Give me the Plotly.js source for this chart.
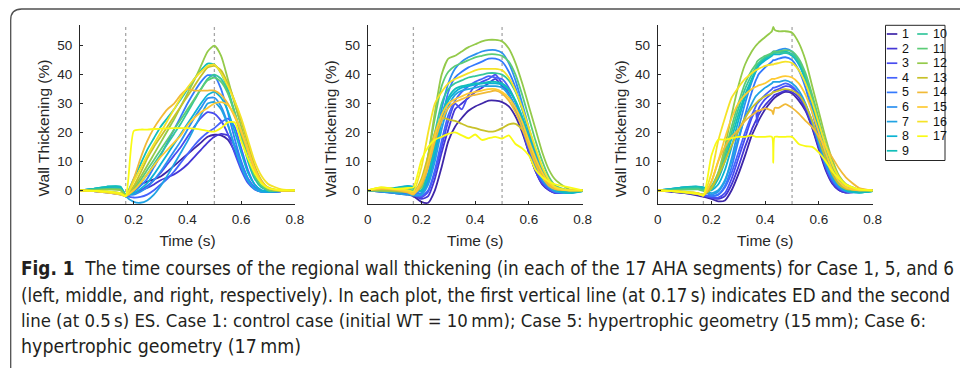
<!DOCTYPE html>
<html><head><meta charset="utf-8">
<script src="https://cdn.plot.ly/plotly-3.0.1.min.js"></script>
<style>html,body{margin:0;padding:0;background:#fff;} #chart{width:960px;height:368px;}</style>
</head><body><div id="chart"></div>
<script>
// ---------------- DATA ----------------
const segments = ['1','2','3','4','5','6','7','8','9','10','11','12','13','14','15','16','17'];
const segColors = ['#3e26a8','#4536d5','#484cef','#4562fc','#347afd','#2c90f0','#21a3e3','#0cb3d3','#12beb9',
                   '#34c79c','#5ccc76','#94ca4a','#c8c129','#f1ba37','#feca33','#f5e327','#f9fb15'];
const xTicks = [0, 0.2, 0.4, 0.6, 0.8];
const xTickText = ['0', '0.2', '0.4', '0.6', '0.8'];
const yTicks = [0, 10, 20, 30, 40, 50];
const yTickText = ['0', '10', '20', '30', '40', '50'];
const edTime = 0.17;   // end-diastole
const esTime = 0.5;    // end-systole
const caseNames = ['Case 1', 'Case 5', 'Case 6'];
const xTitle = 'Time (s)';
const yTitle = 'Wall Thickening (%)';

// time samples (s)
const tBase  = [0, 0.05, 0.1, 0.15, 0.17, 0.2, 0.225, 0.25, 0.275, 0.3, 0.325, 0.35, 0.375, 0.4, 0.425, 0.45, 0.475, 0.5, 0.525, 0.55, 0.575, 0.6, 0.625, 0.65, 0.675, 0.7, 0.75, 0.8];
const tCase6 = [0, 0.05, 0.1, 0.15, 0.17, 0.2, 0.225, 0.25, 0.275, 0.3, 0.325, 0.35, 0.365, 0.37, 0.375, 0.4, 0.425, 0.43, 0.435, 0.45, 0.475, 0.5, 0.525, 0.55, 0.575, 0.6, 0.625, 0.65, 0.675, 0.7, 0.75, 0.8];

// Case 1 (left) – wall thickening (%) per AHA segment
const c1_s1  = [0, -0.3, -0.6, -1.2, -1.5, 0.5, 2, 3, 3.8, 4.8, 6.5, 8.5, 10.5, 12.5, 14.5, 16.5, 18.5, 19.2, 19, 17.5, 13.5, 8, 3.5, 1, -0.3, -0.5, -0.3, 0];
const c1_s2  = [0, -0.3, -0.7, -1.3, -1.7, -1, 0, 0.8, 2, 3.5, 4.5, 5.5, 7, 9, 11.5, 14, 16.5, 18.5, 19.5, 19, 15.5, 9.5, 4, 1, -0.3, -0.5, -0.3, 0];
const c1_s3  = [0, -0.2, -0.5, -1, -1.5, -1, 0, 1.5, 3.5, 6, 9, 12, 15, 18.5, 22, 25, 27, 26.5, 24, 19.5, 13, 7, 2.5, 0.3, -0.5, -0.4, -0.2, 0];
const c1_s4  = [0, -0.3, -0.8, -1.5, -2, -2.5, -2.3, -1.5, 0, 2, 4, 6.5, 9.5, 12.5, 15.5, 18, 20, 21.5, 23.5, 24.8, 22, 14.5, 7, 2, 0, -0.5, -0.3, 0];
const c1_s5  = [0, 0.3, 0.5, 0.2, -1.5, -0.5, 1.5, 4, 8, 12, 16.5, 21, 25.5, 30, 34, 37.5, 39.8, 39.5, 35, 27, 18, 10, 4, 1, -0.3, -0.5, -0.3, 0];
const c1_s6  = [0, 0.3, 0.6, 0.5, -1.5, -1.5, -0.5, 1, 3.5, 6.5, 10, 13.5, 17, 21, 25, 28.5, 31.8, 32, 29, 23, 15, 8, 3, 0.5, -0.5, -0.4, -0.2, 0];
const c1_s7  = [0, 0.5, 1, 0.8, -2, -4, -4.3, -3.5, -1.5, 1.5, 5, 9, 13, 17, 21.5, 26, 30, 30.5, 28, 22.5, 15.5, 8.5, 3.5, 0.5, -0.5, -0.4, -0.2, 0];
const c1_s8  = [0, 0.5, 1.2, 1.2, -1.5, -1, 0.5, 2.5, 5.5, 9, 12.5, 16, 19.5, 23, 26.5, 30, 33, 34, 32, 27.5, 20.5, 13, 6, 2, 0, -0.5, -0.3, 0];
const c1_s9  = [0, 0.5, 1.3, 1.3, -1.5, 4, 9, 14, 18, 22, 25, 28, 31.5, 35, 38.5, 41.5, 43.8, 43.5, 40.5, 35, 27, 18.5, 10, 4, 1, 0, -0.3, 0];
const c1_s10 = [0, 0.2, 0.5, 0.5, -1.5, 0, 2.5, 5.5, 9, 12.5, 16, 19.5, 23, 27, 31, 35, 38.5, 40, 38.5, 34, 27, 19, 11, 5, 1.5, 0, -0.3, 0];
const c1_s11 = [0, 0.2, 0.4, 0.3, -1.5, 0.5, 3.5, 7, 10.5, 14, 17.5, 21, 24.5, 28, 31.5, 35, 38, 39, 37.5, 33.5, 27, 19.5, 11.5, 5, 1.5, 0, -0.3, 0];
const c1_s12 = [0, 0, 0.2, 0, -1.8, 1, 4.5, 8.5, 12.5, 16.5, 20.5, 24.5, 29, 33.5, 38, 43, 48, 50, 46.5, 38.5, 30, 22, 14, 7, 2.5, 0.5, -0.2, 0];
const c1_s13 = [0, -0.2, -0.5, -1, -1.8, 1.5, 6, 11, 15, 18.5, 22, 25.5, 29, 32.5, 36, 39.5, 42.5, 43, 41.5, 37, 31, 24, 16, 8.5, 3.5, 1, -0.1, 0];
const c1_s14 = [0, -0.2, -0.6, -1.2, -2, 4, 11, 17, 21.5, 25, 28, 30, 33, 35, 34.5, 34.5, 34.5, 34.5, 33, 30, 25.5, 20, 13.5, 7, 3, 0.8, -0.1, 0];
const c1_s15 = [0, -0.3, -0.8, -1.5, -2, 0, 2.5, 5.5, 8.5, 11.5, 14, 16.5, 19, 22.5, 25, 27, 28.5, 30, 30.5, 29.5, 26, 20.5, 14, 7.5, 3, 0.8, -0.1, 0];
const c1_s16 = [0, -0.3, -0.7, -1.3, -2, 3, 7.5, 12, 16, 20, 24, 28, 32, 35.5, 38.5, 41, 43, 43.5, 40.5, 36, 31, 25, 17.5, 10, 5, 2.2, 0.3, 0];
const c1_s17 = [0, -0.2, -0.4, -1, -2, 20.5, 21, 21, 21.2, 21.3, 21.4, 21.5, 21.5, 21.5, 21.3, 21, 20.5, 20.3, 21.5, 23.5, 23.5, 17, 11, 6, 2.5, 0.8, 0, 0];

// Case 5 (middle)
const c5_s1  = [0, -0.5, -1, -1.5, -2, -4, -4.3, 0, 8, 17, 22, 25, 27.5, 29, 30, 31, 31, 30.5, 29, 25.5, 20, 13, 6.5, 2, 0, -1, -0.5, 0];
const c5_s2  = [0, -0.4, -0.8, -1.2, -1.5, -3, -2, 4, 13, 21, 28, 30, 32, 34, 35.5, 37, 38.5, 36, 33, 28, 21, 13, 6.5, 2, 0, -1, -0.5, 0];
const c5_s3  = [0, -0.3, -0.6, -1, -1.5, -2.5, -0.5, 6, 15, 24, 30, 28, 33, 36, 37.5, 38.5, 40, 37, 33.5, 28.5, 21.5, 13.5, 7, 2.5, 0.3, -0.8, -0.5, 0];
const c5_s4  = [0, -0.3, -0.6, -1, -1.5, -2, 0, 7, 17, 26, 31, 34, 36, 37.5, 38.5, 39.5, 39, 38.5, 35.5, 30.5, 23.5, 15, 8, 3, 0.5, -0.8, -0.5, 0];
const c5_s5  = [0, -0.3, -0.5, -0.8, -1.2, -1, 3, 12, 24, 34, 39, 41, 42.5, 43.5, 44.5, 45.5, 45.5, 44.5, 41, 35.5, 28, 20, 12, 5.5, 2, 0, -0.5, 0];
const c5_s6  = [0, -0.2, -0.5, -0.8, -1.2, 0, 6, 16, 28, 37, 42, 44.5, 46, 47, 48, 48.5, 48.5, 47.5, 44, 38, 30, 21.5, 13, 6.5, 2.5, 0.5, -0.5, 0];
const c5_s7  = [0, -0.5, -1, -1.5, -1.8, -1.5, 2, 10, 21, 29, 33, 34.5, 35, 35.5, 36, 36, 36, 35.5, 33, 28.5, 22, 15, 8.5, 3.5, 1, -0.5, -1, -0.3];
const c5_s8  = [0, 0.3, 0.8, 1.5, 1.2, -0.5, 4, 13, 24, 31, 34, 35.5, 36, 36.5, 37, 37, 37, 36.5, 34.5, 30.5, 24.5, 17.5, 10.5, 5, 1.5, 0, -1, -0.3];
const c5_s9  = [0, 0.3, 0.7, 1.3, 1, 0, 5, 15, 26, 32, 35, 36, 36.5, 37, 37, 37.5, 37.5, 37, 35, 31, 25.5, 18.5, 11.5, 5.5, 2, 0.3, -0.8, -0.3];
const c5_s10 = [0, 0.2, 0.5, 0.8, 0.5, 1, 9, 20, 30, 35, 37, 38, 39, 39.5, 40, 40.5, 40.5, 40, 38, 34, 28, 21, 14, 7.5, 3, 1, 0, 0];
const c5_s11 = [0, 0, 0.2, 0.3, 0, 2, 12, 25, 36, 41, 43, 44, 45, 46, 46.5, 47, 47, 46.5, 44.5, 40, 33, 25, 17, 10, 4.5, 1.5, 0, 0];
const c5_s12 = [0, -0.2, -0.4, -0.6, -0.8, 1, 12, 27, 40, 45.5, 46.5, 48, 49.5, 50.5, 51.5, 52, 52, 51.5, 49, 44, 37, 29, 21, 13, 7, 3.5, 0.3, 0];
const c5_s13 = [0, 0.3, 0, -0.5, -1, 4, 12, 20, 25, 24.5, 24, 23, 22, 21.5, 20.8, 20.3, 20.5, 21.5, 22.8, 23, 21, 16, 10, 5, 2, 0.5, 0, 0];
const c5_s14 = [0, 0.5, 0.2, -0.8, -1.5, 2, 8, 17, 24, 28.5, 30.5, 31.5, 32.5, 33, 33.5, 34, 34.5, 33.5, 31, 27, 21.5, 15, 9, 4.5, 1.5, 0.3, 0, 0];
const c5_s15 = [0, 0.8, 0.3, -0.5, -1.2, 3, 10, 19, 26, 30, 31.5, 32.5, 33.5, 34, 34.5, 35, 35, 34, 32, 28.5, 23.5, 17, 11, 6, 2.5, 0.8, 0, 0];
const c5_s16 = [0, 1, 0.5, 0, -0.5, 8, 20, 30, 34, 37, 38.5, 39.5, 40.5, 41.5, 42, 42, 42, 41.5, 39, 34.5, 28.5, 21.5, 14.5, 8, 3.5, 1, 0, 0];
const c5_s17 = [0, 1, 0.5, 0.8, 1, 10.5, 15, 17.5, 18.5, 19.5, 20, 19, 18, 19.3, 17.4, 18, 18.5, 17.9, 19, 16, 14.5, 12, 7, 4.5, 3, 2, 1, 0];

// Case 6 (right)
const c6_s1  = [0, -0.5, -1, -1.8, -2.2, -3, -3.8, -3.5, 0, 5.5, 12, 19, 22, 23, 24, 28, 31, 31.5, 32, 33, 34, 33.5, 31, 27.5, 21.5, 14, 7, 2.3, 0, -0.8, -0.5, 0];
const c6_s2  = [0, -0.4, -0.9, -1.5, -2, -2.5, -3, -2, 2, 8, 15, 21, 24, 25, 26, 29.5, 32, 32.5, 33, 33.5, 34.5, 34, 32, 28, 22, 14.5, 7.5, 2.5, 0, -0.8, -0.5, 0];
const c6_s3  = [0, -0.3, -0.8, -1.3, -1.8, -2.5, -2.5, -1, 4, 11, 18, 25, 27.5, 23, 28, 31.5, 33.5, 34, 34.5, 35, 36, 35.5, 33, 29, 23, 15.5, 8, 3, 0.5, -0.5, -0.5, 0];
const c6_s4  = [0, -0.3, -0.7, -1.2, -1.6, -2, -1.5, 1, 6, 13, 20, 26, 29, 30, 30.5, 33, 35, 35.5, 35.5, 36, 37, 36, 33.5, 29.5, 23.5, 16, 8.5, 3.5, 0.8, -0.3, -0.5, 0];
const c6_s5  = [0, 0.3, 0.6, 0.8, 0.2, -2, -1.5, 1.5, 8, 17, 26, 34, 38, 39, 40, 42.5, 44.5, 45, 45, 45.5, 46, 45, 41.5, 35.5, 27, 18, 10, 4, 1, -0.3, -0.5, 0];
const c6_s6  = [0, 0.3, 0.6, 0.9, 0.3, -1.5, -0.5, 3, 11, 21, 30, 37.5, 41, 42, 43, 45.5, 47.5, 48, 48, 48.5, 49, 48, 44.5, 38, 29, 19.5, 11, 5, 1.5, 0, -0.5, 0];
const c6_s7  = [0, 0.5, 1, 1.2, 0.9, -1, 0, 3.5, 10, 18, 25, 30, 32.5, 33, 33.5, 35.5, 37, 37.5, 37.5, 37.5, 38, 37, 34.5, 30, 23.5, 16, 9, 4, 1.2, -0.3, -0.8, -0.3];
const c6_s8  = [0, 0.5, 1.1, 1.3, 1, 0, 2, 7, 15, 24, 32, 38, 41.5, 42.5, 43, 45, 46.5, 47, 47, 47, 47.5, 46.5, 43.5, 38, 30, 21, 12.5, 6, 2, 0, -0.8, -0.3];
const c6_s9  = [0, 0.4, 1, 1.2, 0.9, 0.5, 4, 10, 18, 26, 33, 38.5, 41.5, 42.5, 43.5, 45.5, 47, 47.5, 47.5, 48, 48, 47, 44, 38.5, 30.5, 21.5, 13, 6.5, 2.5, 0.3, -0.8, -0.3];
const c6_s10 = [0, 0.2, 0.5, 0.7, 0.3, 1, 5, 11.5, 20, 28, 35, 40, 42.5, 43.5, 44, 46, 47, 47.5, 47.5, 47.5, 47.5, 47, 44.5, 39.5, 32, 23.5, 15, 8, 3, 1, 0, 0];
const c6_s11 = [0, 0, 0.2, 0.3, -0.2, 1.5, 6, 13, 22, 30, 37, 41.5, 43.5, 44.5, 45, 46.5, 47.5, 48, 48, 48, 48.5, 48, 45.5, 40.5, 33, 24.5, 16, 8.5, 3.5, 1, 0, 0];
const c6_s12 = [0, -0.3, -0.8, -1.3, -1.5, 0.5, 6, 15, 26, 36, 43.5, 48, 50, 50.5, 51, 53, 55, 56.5, 55.5, 55, 55, 54.5, 51, 45, 36, 27, 18, 10.5, 5, 2.2, 0.2, 0];
const c6_s13 = [0, -0.2, -0.5, -1, -1.5, 1, 5, 10, 15.5, 20.5, 25, 28.5, 30, 30.5, 31, 32.5, 33.5, 34, 34, 34.5, 35, 34.5, 33, 29.5, 24, 17.5, 11, 5.5, 2, 0.5, 0, 0];
const c6_s14 = [0, -0.2, -0.6, -1.2, -1.8, 3, 10, 15, 18.5, 21, 24, 26, 27, 27.5, 27.5, 28.3, 27.5, 26.3, 28.5, 28.5, 29.8, 28.5, 26.5, 24, 21.8, 18.5, 15, 11.3, 7.5, 4.5, 0.8, 0];
const c6_s15 = [0, -0.3, -0.7, -1.3, -1.8, 3, 10, 18, 25, 30, 33, 35, 35.8, 36, 36.3, 37, 38.5, 38.5, 38.5, 39, 39.5, 39, 37, 33, 27, 20, 13, 7, 3, 1, 0, 0];
const c6_s16 = [0, -0.2, -0.5, -1, -1.5, 6, 17, 25, 32, 35.5, 38.5, 40.5, 41.5, 41.7, 42, 43, 43.5, 43.5, 43.7, 44, 44.5, 44, 41.5, 37, 30.5, 23, 15.5, 9, 4.5, 1.8, 0.2, 0];
const c6_s17 = [0, -0.3, -0.6, -1.2, -1.8, 12, 17.5, 17.5, 18, 18.5, 18.5, 19, 18.5, 18.5, 18.5, 18.5, 18.5, 9.5, 18.5, 18.5, 18.5, 18.5, 16, 15.3, 15, 13, 10, 6.5, 4, 2, 0.3, 0];

const case1Series = [c1_s1, c1_s2, c1_s3, c1_s4, c1_s5, c1_s6, c1_s7, c1_s8, c1_s9, c1_s10, c1_s11, c1_s12, c1_s13, c1_s14, c1_s15, c1_s16, c1_s17];
const case5Series = [c5_s1, c5_s2, c5_s3, c5_s4, c5_s5, c5_s6, c5_s7, c5_s8, c5_s9, c5_s10, c5_s11, c5_s12, c5_s13, c5_s14, c5_s15, c5_s16, c5_s17];
const case6Series = [c6_s1, c6_s2, c6_s3, c6_s4, c6_s5, c6_s6, c6_s7, c6_s8, c6_s9, c6_s10, c6_s11, c6_s12, c6_s13, c6_s14, c6_s15, c6_s16, c6_s17];

const captionLines = [
  '<b>Fig. 1</b>  The time courses of the regional wall thickening (in each of the 17 AHA segments) for Case 1, 5, and 6',
  '(left, middle, and right, respectively). In each plot, the first vertical line (at 0.17\u2009s) indicates ED and the second',
  'line (at 0.5\u2009s) ES. Case 1: control case (initial WT = 10\u2009mm); Case 5: hypertrophic geometry (15\u2009mm); Case 6:',
  'hypertrophic geometry (17\u2009mm)'
];

// ---------------- BUILD ----------------
const W = 960, H = 368;
const px = v => v / W;           // pixel -> paper x
const py = v => 1 - v / H;       // pixel -> paper y
const AXC = '#262626';
const FAM = 'Liberation Sans, Arial, Helvetica, sans-serif';
const tickFont = {family: FAM, size: 13.5, color: AXC};
const titleFont = {family: FAM, size: 15.5, color: AXC};

const panels = [
  {t: tBase,  series: case1Series, xd: [80, 295]},
  {t: tBase,  series: case5Series, xd: [367.7, 582.7]},
  {t: tCase6, series: case6Series, xd: [657.7, 872.7]}
];

const traces = [];
const layout = {
  width: W, height: H,
  margin: {l: 0, r: 0, t: 0, b: 0},
  paper_bgcolor: '#ffffff', plot_bgcolor: '#ffffff',
  showlegend: false,
  font: {family: FAM, color: AXC},
  shapes: [], annotations: []
};

panels.forEach((p, i) => {
  const sfx = i === 0 ? '' : String(i + 1);
  const xa = 'x' + sfx, ya = 'y' + sfx;
  p.series.forEach((vals, s) => {
    traces.push({
      x: p.t, y: vals, xaxis: xa, yaxis: ya, type: 'scatter', mode: 'lines',
      name: caseNames[i] + ' – segment ' + segments[s],
      line: {color: segColors[s], width: 1.8, shape: 'spline', smoothing: 0.6},
      hoverinfo: 'skip', showlegend: false
    });
  });
  layout['xaxis' + sfx] = {
    domain: [px(p.xd[0]), px(p.xd[1])], anchor: ya, range: [0, 0.8],
    tickmode: 'array', tickvals: xTicks, ticktext: xTickText,
    ticks: 'inside', ticklen: 3, tickwidth: 1, tickcolor: AXC,
    showline: true, linecolor: AXC, linewidth: 1, showgrid: false, zeroline: false,
    tickfont: tickFont, ticklabelstandoff: 3,
    title: {text: xTitle, font: titleFont, standoff: 8}, automargin: false, fixedrange: true
  };
  layout['yaxis' + sfx] = {
    domain: [py(204), py(25)], anchor: xa, range: [-4.74, 57.16],
    tickmode: 'array', tickvals: yTicks, ticktext: yTickText,
    ticks: 'inside', ticklen: 3, tickwidth: 1, tickcolor: AXC,
    showline: true, linecolor: AXC, linewidth: 1, showgrid: false, zeroline: false,
    tickfont: tickFont, ticklabelstandoff: 4,
    automargin: false, fixedrange: true
  };
  // y-axis label (MATLAB places it slightly below the axis centre)
  layout.annotations.push({xref: 'paper', yref: 'paper', x: px(p.xd[0] - 37), y: py(128.5),
    xanchor: 'center', yanchor: 'middle', textangle: -90, text: yTitle, showarrow: false,
    font: titleFont});
  [edTime, esTime].forEach(tv => {
    layout.shapes.push({type: 'line', xref: xa, yref: ya + ' domain', x0: tv, x1: tv, y0: 0, y1: 1,
      line: {color: '#a6a6a6', width: 1.3, dash: 'dot'}, layer: 'below'});
  });
});

// legend (two columns, drawn in the figure's compact style)
const legBox = {x0: 885.5, x1: 945, y0: 25.3, y1: 160.5};
layout.shapes.push({type: 'rect', xref: 'paper', yref: 'paper',
  x0: px(legBox.x0), x1: px(legBox.x1), y0: py(legBox.y1), y1: py(legBox.y0),
  line: {color: AXC, width: 1}, fillcolor: 'rgba(255,255,255,0)'});
segments.forEach((lab, s) => {
  const col = s < 9 ? 0 : 1;
  const row = s < 9 ? s : s - 9;
  const yc = 34 + row * 14.6;
  const lx0 = col === 0 ? 886.8 : 917.2;
  layout.shapes.push({type: 'line', xref: 'paper', yref: 'paper',
    x0: px(lx0), x1: px(lx0 + 10.5), y0: py(yc), y1: py(yc),
    line: {color: segColors[s], width: 1.7}});
  layout.annotations.push({xref: 'paper', yref: 'paper', x: px(lx0 + 13.5), y: py(yc),
    xanchor: 'left', yanchor: 'middle', text: lab, showarrow: false,
    font: {family: FAM, size: 12.5, color: '#111'}});
});

// caption (justified paragraph in the original; each line sized to its printed width)
const capY = [268.5, 295, 320.5, 346];
const capSize = [18.8, 18.6, 18.4, 19.4];
captionLines.forEach((ln, k) => {
  layout.annotations.push({xref: 'paper', yref: 'paper', x: px(19), y: py(capY[k]),
    xanchor: 'left', yanchor: 'middle', text: ln, showarrow: false, align: 'left',
    font: {family: 'Liberation Sans Narrow, DejaVu Sans Condensed, Roboto, sans-serif', size: capSize[k], color: '#231f20'}});
});

// rounded frame around the figure
const fx = 10.7, fy = 9, r = 11;
layout.shapes.push({type: 'path', xref: 'paper', yref: 'paper',
  path: `M ${px(fx)},${py(372)} L ${px(fx)},${py(fy + r)} Q ${px(fx)},${py(fy)} ${px(fx + r)},${py(fy)} L ${px(964)},${py(fy)}`,
  line: {color: '#505050', width: 1.3}});

Plotly.newPlot('chart', traces, layout, {staticPlot: true, displayModeBar: false});
</script>
</body></html>
